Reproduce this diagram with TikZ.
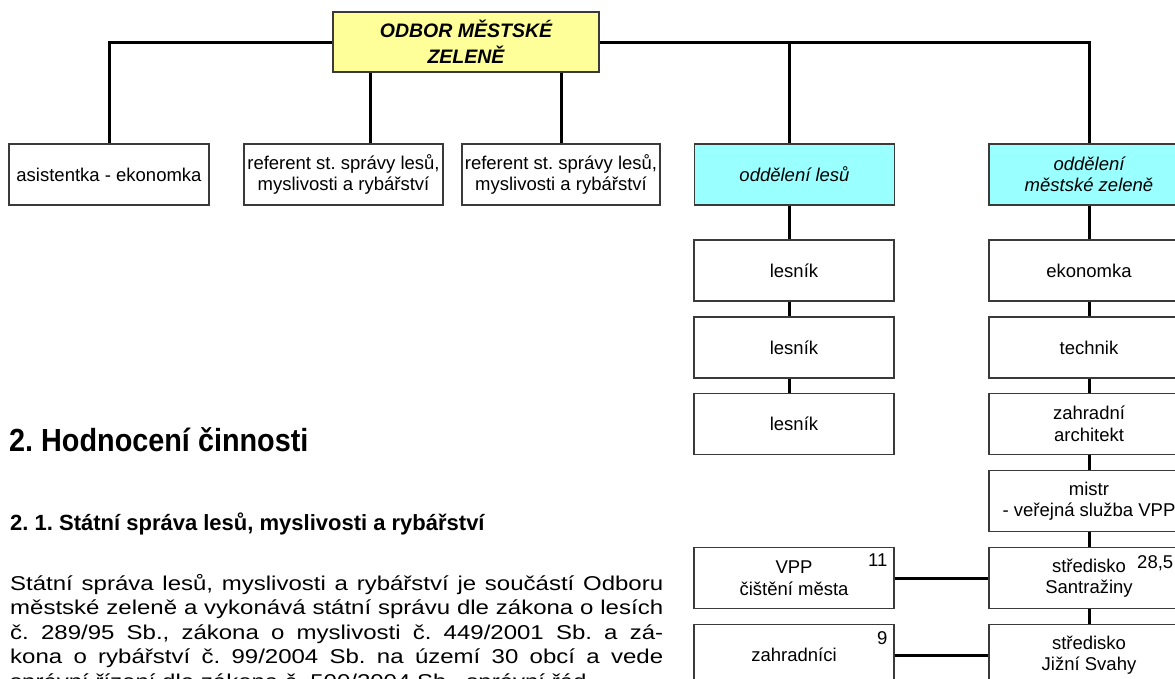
\documentclass[tikz,border=0pt]{standalone}
\usepackage{fontspec}
\setmainfont{Liberation Sans}
\newfontfamily\headfont[FakeStretch=0.9]{Liberation Sans}
\newfontfamily\bodyfont[FakeStretch=1.2]{Liberation Sans}
\usetikzlibrary{positioning}
\definecolor{boxyellow}{HTML}{FFFF99}
\definecolor{boxcyan}{HTML}{99FFFF}
\definecolor{frame}{HTML}{3A3A3A}
\frenchspacing

\begin{document}
\begin{tikzpicture}[x=1pt, y=-1pt,
    box/.style={draw=frame, line width=1.2pt, fill=white, minimum width=200pt, minimum height=61pt,
        inner sep=2pt, align=center, font=\fontsize{18.5}{21.5}\selectfont},
    head/.style={box, fill=boxyellow, minimum width=266pt, minimum height=60pt,
        font=\fontsize{19.5}{26}\selectfont\bfseries\itshape},
    dept/.style={box, fill=boxcyan, font=\fontsize{18.5}{21.5}\selectfont\itshape},
    num/.style={anchor=north east, inner sep=7pt, font=\fontsize{18.5}{21.5}\selectfont},
    link/.style={line width=3pt}]
    \useasboundingbox (0,0) rectangle (1175,678);
    \clip (0,0) rectangle (1175,678);

    % head of the department
    \node[head] (odbor) at (466,42) {ODBOR MĚSTSKÉ\\ZELENĚ};

    % first row
    \node[box] (asist) at (109,174.5) {asistentka - ekonomka};
    \node[box, minimum width=199pt] (ref1) at (343.5,174.5) {referent st. správy lesů,\\myslivosti a rybářství};
    \node[box, minimum width=198pt] (ref2) at (561,174.5) {referent st. správy lesů,\\myslivosti a rybářství};
    \node[dept] (lesy) at (794.5,174.5) {oddělení lesů};
    \node[dept] (zelen) at (1089,174.5) {oddělení\\městské zeleně};

    \coordinate (lx) at (789,0);  % line of the forest column
    \coordinate (rx) at (370,0);

    \draw[link] (odbor.west) -| (asist.north);
    \draw[link] (odbor.east) -| (zelen.north);
    \draw[link] (odbor.east -| lx) -- (lesy.north -| lx);
    \draw[link] (odbor.south -| rx) -- (ref1.north -| rx);
    \draw[link] (odbor.south -| ref2.north) -- (ref2.north);

    % forest column
    \def\prev{lesy}
    \foreach \curr/\y in {les1/270.5, les2/347.5, les3/424}{
        \node[box] (\curr) at (794,\y) {lesník};
        \draw[link] (\prev.south -| lx) -- (\curr.north -| lx);
        \xdef\prev{\curr}
    }

    % town greenery column
    \def\prev{zelen}
    \foreach \curr/\y/\txt in {ekon/270.5/ekonomka, tech/347.5/technik, arch/424/zahradní\\architekt,
        mistr/501/mistr\\- veřejná služba VPP, santr/578/středisko\\Santražiny, jizni/655/středisko\\Jižní Svahy}{
        \node[box] (\curr) at (1089,\y) {\txt};
        \draw[link] (\prev) -- (\curr);
        \xdef\prev{\curr}
    }
    \node[num, anchor=north west, inner sep=0pt] (pocet3) at (1137,555) {28,5};

    % public works
    \node[box, label={[num]north east:11}] (vpp) at (794,578) {VPP\\čištění města};
    \node[box, label={[num]north east:9}] (zahr) at (794,655) {zahradníci};
    \draw[link] (vpp) -- (santr);
    \draw[link] (zahr) -- (jizni);

    % text of the report
    \node[anchor=base west, inner sep=0pt, font=\headfont\bfseries\fontsize{32}{36}\selectfont] (nadpis)
        at (9,451) {2. Hodnocení činnosti};
    \node[anchor=base west, inner sep=0pt, font=\bfseries\fontsize{22}{26}\selectfont] (podnadpis)
        at (10,530) {2. 1. Státní správa lesů, myslivosti a rybářství};
    \node[anchor=north west, inner sep=0pt, text width=653pt, align=justify,
        font=\bodyfont\fontsize{20}{24.5}\selectfont] (odstavec) at (10,574)
        {Státní správa lesů, myslivosti a rybářství je součástí Odboru\linebreak
        městské zeleně a vykonává státní správu dle zákona o lesích\linebreak
        č. 289/95 Sb., zákona o myslivosti č. 449/2001 Sb. a zá-\linebreak
        kona o rybářství č. 99/2004 Sb. na území 30 obcí a vede\linebreak
        správní řízení dle zákona č. 500/2004 Sb., správní řád};
\end{tikzpicture}
\end{document}
